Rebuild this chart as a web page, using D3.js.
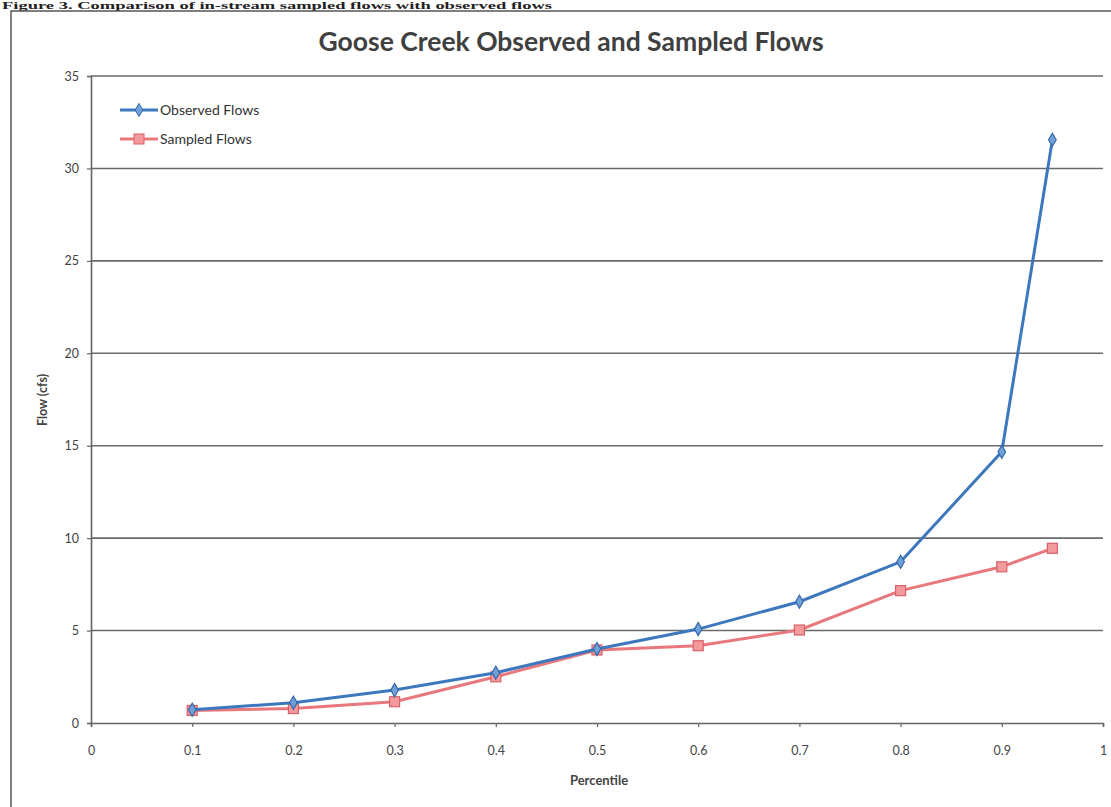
<!DOCTYPE html>
<html><head><meta charset="utf-8">
<script src="https://cdn.jsdelivr.net/npm/d3@7"></script>
<style>body{margin:0;background:#fff;overflow:hidden}svg{display:block}</style>
</head><body><svg id="c" width="1111" height="807"></svg>
<script>
const percentiles = [0.1,0.2,0.3,0.4,0.5,0.6,0.7,0.8,0.9,0.95];
const observedFlows = [0.72,1.1,1.78,2.72,4.0,5.08,6.56,8.72,14.67,31.55];
const sampledFlows = [0.68,0.78,1.15,2.5,3.95,4.18,5.03,7.16,8.45,9.45];
const xTicks = [0,0.1,0.2,0.3,0.4,0.5,0.6,0.7,0.8,0.9,1];
const yTicks = [0,5,10,15,20,25,30,35];
const seriesNames = ["Observed Flows","Sampled Flows"];
const titleText = "Goose Creek Observed and Sampled Flows";
const captionText = "Figure 3. Comparison of in-stream sampled flows with observed flows";

const svg = d3.select("#c");
const font = "Lato, 'Open Sans', sans-serif";
const x = d3.scaleLinear().domain([0,1]).range([91,1103]);
const y = d3.scaleLinear().domain([0,35]).range([723,76]);

// caption at the very top
svg.append("text").attr("x",2).attr("y",9).attr("font-family","'Liberation Serif',serif")
  .attr("font-weight","bold").attr("font-size",11).attr("fill","#222")
  .attr("textLength",550).attr("lengthAdjust","spacingAndGlyphs").text(captionText);

// outer frame
svg.append("rect").attr("x",11).attr("y",11).attr("width",1120).attr("height",820)
  .attr("fill","none").attr("stroke","#555").attr("stroke-width",1.5);

// title
svg.append("text").attr("x",571).attr("y",51).attr("text-anchor","middle")
  .attr("font-family",font).attr("font-weight","bold").attr("font-size",26.5).attr("fill","#404040").text(titleText);

// gridlines
svg.append("g").selectAll("line").data(yTicks.filter(d=>d>0)).join("line")
  .attr("x1",x(0)).attr("x2",x(1)).attr("y1",d=>y(d)).attr("y2",d=>y(d))
  .attr("stroke","#6a6a6a").attr("stroke-width",1.6);

// axes
const yAxis = d3.axisLeft(y).tickValues(yTicks).tickSize(4).tickPadding(8).tickFormat(d3.format("d"));
const gy = svg.append("g").attr("transform",`translate(${x(0)},0)`).call(yAxis);
const xAxis = d3.axisBottom(x).tickValues(xTicks).tickSize(4).tickPadding(19).tickFormat(d=>d===0||d===1?String(d):d3.format(".1f")(d));
const gx = svg.append("g").attr("transform",`translate(0,${y(0)})`).call(xAxis);
[gx,gy].forEach(g=>{
  g.select(".domain").attr("stroke","#666").attr("stroke-width",1.6);
  g.selectAll(".tick line").attr("stroke","#666").attr("stroke-width",1.2);
  g.selectAll("text").attr("font-family",font).attr("font-size",12.5).attr("fill","#444");
});

// axis titles
svg.append("text").attr("x",599).attr("y",785).attr("text-anchor","middle")
  .attr("font-family",font).attr("font-weight","bold").attr("font-size",13).attr("fill","#444").text("Percentile");
svg.append("text").attr("transform","translate(47,400) rotate(-90)").attr("text-anchor","middle")
  .attr("font-family",font).attr("font-weight","bold").attr("font-size",12.5).attr("fill","#444").text("Flow (cfs)");

const line = d3.line().x(d=>x(d[0])).y(d=>y(d[1]));
const colors = {obs:"#3d78bf", samp:"#e9787c"};

// sampled series
const sd = percentiles.map((p,i)=>[p,sampledFlows[i]]);
svg.append("path").datum(sd).attr("d",line).attr("fill","none").attr("stroke",colors.samp).attr("stroke-width",3);
svg.append("g").selectAll("rect").data(sd).join("rect")
  .attr("x",d=>x(d[0])-5).attr("y",d=>y(d[1])-5).attr("width",10).attr("height",10)
  .attr("fill","#f29a9c").attr("stroke","#d9606a").attr("stroke-width",1.2);

// observed series
const od = percentiles.map((p,i)=>[p,observedFlows[i]]);
svg.append("path").datum(od).attr("d",line).attr("fill","none").attr("stroke",colors.obs).attr("stroke-width",3);
const diamond = d3.symbol().type(d3.symbolDiamond).size(50);
svg.append("g").selectAll("path").data(od).join("path")
  .attr("transform",d=>`translate(${x(d[0])},${y(d[1])})`).attr("d",diamond)
  .attr("fill","#6fa0d8").attr("stroke","#3568a8").attr("stroke-width",1.2);

// legend
const lg = svg.append("g");
[[0,colors.obs],[1,colors.samp]].forEach(([i,c])=>{
  const ly = 110 + i*29;
  lg.append("line").attr("x1",120).attr("x2",158).attr("y1",ly).attr("y2",ly).attr("stroke",c).attr("stroke-width",3);
  if(i===0){
    lg.append("path").attr("transform",`translate(139,${ly})`).attr("d",diamond).attr("fill","#6fa0d8").attr("stroke","#3568a8");
  } else {
    lg.append("rect").attr("x",134).attr("y",ly-5).attr("width",10).attr("height",10).attr("fill","#f29a9c").attr("stroke","#d9606a");
  }
  lg.append("text").attr("x",160).attr("y",ly+5).attr("font-family",font).attr("font-size",14).attr("fill","#333").text(seriesNames[i]);
});
</script></body></html>
